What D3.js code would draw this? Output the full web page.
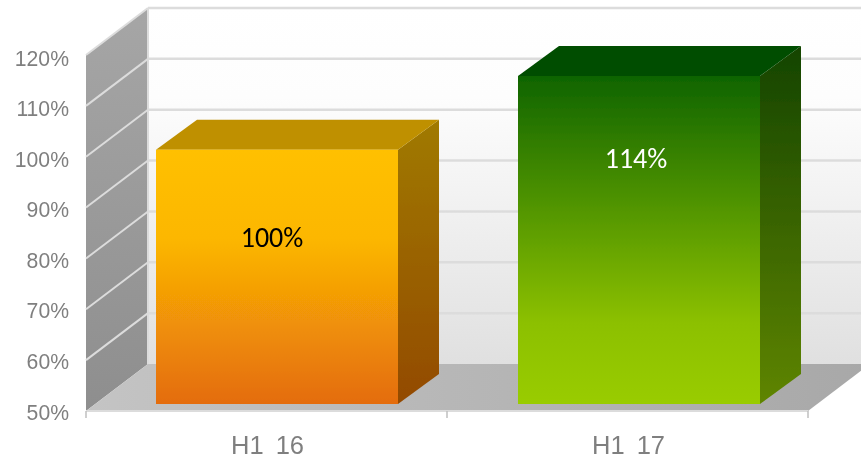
<!DOCTYPE html>
<html><head><meta charset="utf-8">
<script src="https://cdn.jsdelivr.net/npm/d3@7/dist/d3.min.js"></script>
<style>html,body{margin:0;padding:0;background:#fff;overflow:hidden}svg{display:block}</style>
</head><body><svg id="c" width="861" height="459"></svg>
<script>
const categories = ["H1 16", "H1 17"];
const values = [100, 114.5];
const valueLabels = ["100%", "114%"];
const tickValues = [50, 60, 70, 80, 90, 100, 110, 120];

const root = d3.select("#c");
const defs = root.append("defs");
function grad(id, stops, x2 = 0, y2 = 1) {
  const g = defs.append("linearGradient").attr("id", id)
    .attr("x1", 0).attr("y1", 0).attr("x2", x2).attr("y2", y2);
  stops.forEach(([o, c]) => g.append("stop").attr("offset", o).attr("stop-color", c));
}
defs.append("filter").attr("id", "soft").attr("x", 0).attr("y", 0).attr("width", "100%").attr("height", "100%")
  .append("feGaussianBlur").attr("stdDeviation", 0.6);
const svg = root.append("g").attr("filter", "url(#soft)");
svg.append("rect").attr("width", 861).attr("height", 459).attr("fill", "#fff");

grad("wall", [[0, "#ffffff"], [0.25, "#fdfdfd"], [1, "#e0e0e0"]]);
grad("side", [[0, "#a6a6a6"], [1, "#8e8e8e"]]);
grad("floor", [[0, "#c4c4c4"], [1, "#a8a8a8"]], 1, 0);
grad("bar0", [[0, "#ffc000"], [0.35, "#fcb704"], [1, "#e46c0a"]]);
grad("bar1", [[0, "#0f6400"], [0.75, "#8cc000"], [1, "#99cc00"]]);
grad("side0", [[0, "#a07a00"], [1, "#934a05"]]);
grad("side1", [[0, "#144400"], [1, "#5f8500"]]);
const tops = ["#bf9000", "#004d00"];
const sides = ["url(#side0)", "url(#side1)"];
const fronts = ["url(#bar0)", "url(#bar1)"];
const labelColors = ["#000", "#fff"];
const labelDrop = [97, 92];

const y = d3.scaleLinear().domain([50, 120]).range([411, 55]);
const labelY = d3.scaleLinear().domain([50, 120]).range([419.5, 65.5]);
const x = d3.scaleBand().domain(categories).range([86, 808]);
const dx = 62, dy = -47;           // chart depth
const barDx = 41, barDy = -30;     // bar depth
const inX = 70, inY = -7;          // bar front inset from the axis plane
const barW = 242;
const pts = a => a.map(p => p.join(",")).join(" ");
const gridCol = "#dcdcdc";

// back wall
svg.append("rect").attr("x", x.range()[0] + dx).attr("y", y(120) + dy)
  .attr("width", 861 - (x.range()[0] + dx)).attr("height", y(50) - y(120))
  .attr("fill", "url(#wall)");
// left wall
svg.append("polygon").attr("fill", "url(#side)").attr("points", pts([
  [x.range()[0], y(120)], [x.range()[0] + dx, y(120) + dy],
  [x.range()[0] + dx, y(50) + dy], [x.range()[0], y(50)]]));
// floor
svg.append("polygon").attr("fill", "url(#floor)").attr("points", pts([
  [x.range()[0], y(50)], [x.range()[0] + dx, y(50) + dy],
  [x.range()[1] + dx, y(50) + dy], [x.range()[1], y(50)]]));
// gridlines
const gx = svg.append("g");
tickValues.slice(1).forEach(v => {
  gx.append("line").attr("x1", x.range()[0] + dx).attr("x2", 861)
    .attr("y1", y(v) + dy).attr("y2", y(v) + dy)
    .attr("stroke", gridCol).attr("stroke-width", 2.5);
  gx.append("line").attr("x1", x.range()[0]).attr("x2", x.range()[0] + dx)
    .attr("y1", y(v)).attr("y2", y(v) + dy)
    .attr("stroke", gridCol).attr("stroke-width", 2);
});
gx.append("line").attr("x1", x.range()[0] + dx).attr("x2", x.range()[0] + dx)
  .attr("y1", y(120) + dy).attr("y2", y(50) + dy).attr("stroke", gridCol).attr("stroke-width", 2);
gx.append("line").attr("x1", x.range()[0]).attr("x2", x.range()[1])
  .attr("y1", y(50)).attr("y2", y(50)).attr("stroke", gridCol).attr("stroke-width", 2);

// bars
categories.forEach((c, i) => {
  const l = x(c) + inX + (i ? 1 : 0), r = l + barW;
  const t = y(values[i]) + inY, b = y(50) + inY;
  const g = svg.append("g");
  g.append("polygon").attr("fill", sides[i]).attr("points", pts([
    [r, t], [r + barDx, t + barDy], [r + barDx, b + barDy], [r, b]]));
  g.append("polygon").attr("fill", tops[i]).attr("points", pts([
    [l, t], [l + barDx, t + barDy], [r + barDx, t + barDy], [r, t]]));
  g.append("rect").attr("x", l).attr("y", t).attr("width", barW).attr("height", b - t)
    .attr("fill", fronts[i]);
  g.append("text").attr("x", (l + r) / 2 - 5 + i * 2).attr("y", t + labelDrop[i])
    .attr("text-anchor", "middle").attr("font-family", "Carlito, Lato, sans-serif")
    .attr("font-size", 28).attr("fill", labelColors[i]).text(valueLabels[i]);
});

// axis ticks + labels
const ticks = [x.range()[0], ...categories.map(c => x(c) + x.bandwidth())];
ticks.forEach(t => svg.append("line").attr("x1", t).attr("x2", t)
  .attr("y1", y(50)).attr("y2", y(50) + 7).attr("stroke", "#bfbfbf").attr("stroke-width", 1.5));
tickValues.forEach(v => svg.append("text").attr("x", 69).attr("y", labelY(v))
  .attr("text-anchor", "end").attr("font-family", "Liberation Sans, Arial, sans-serif")
  .attr("font-size", 21.2).attr("fill", "#7f7f7f").text(v + "%"));
categories.forEach(c => svg.append("text").attr("x", x(c) + x.bandwidth() / 2 + 1).attr("y", 453.5)
  .attr("text-anchor", "middle").attr("font-family", "Liberation Sans, Arial, sans-serif")
  .attr("word-spacing", 5)
  .attr("font-size", 25.5).attr("fill", "#7f7f7f").text(c));
</script></body></html>
